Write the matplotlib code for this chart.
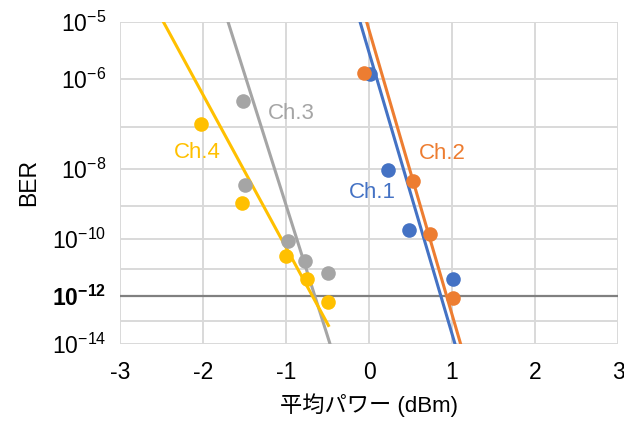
import numpy as np
import matplotlib
matplotlib.use('Agg')
import matplotlib.pyplot as plt

plt.rcParams['font.family'] = ['Liberation Sans', 'Noto Sans CJK JP']
plt.rcParams['mathtext.fontset'] = 'custom'
plt.rcParams['mathtext.rm'] = 'Liberation Sans'
plt.rcParams['mathtext.bf'] = 'Liberation Sans:bold'
plt.rcParams['axes.unicode_minus'] = False

# measured points (average power dBm, BER)
ch1_x = [0.01, 0.23, 0.48, 1.01]
ch1_ber = [1.25e-6, 9.3e-9, 1.9e-10, 4.2e-12]
ch2_x = [-0.06, 0.53, 0.73, 1.01]
ch2_ber = [1.3e-6, 4.8e-9, 1.4e-10, 8.5e-13]
ch3_x = [-1.52, -1.49, -0.97, -0.77, -0.50]
ch3_ber = [3.6e-7, 3.8e-9, 8.5e-11, 1.9e-11, 6.9e-12]
ch4_x = [-2.02, -1.53, -1.00, -0.75, -0.49]
ch4_ber = [1.2e-7, 1.2e-9, 2.7e-11, 4.2e-12, 5.6e-13]

# trend lines: log10(-log10(BER)) = a + b * x
fit_a = [0.741, 0.710, 1.317, 1.224]
fit_b = [0.391, 0.395, 0.364, 0.212]
fit_x0 = [-0.5, -0.5, -2.0, -2.7]
fit_x1 = [1.3, 1.3, -0.3, -0.48]

names = ['Ch.1', 'Ch.2', 'Ch.3', 'Ch.4']
colors = ['#4472C4', '#ED7D31', '#A5A5A5', '#FFC000']
label_pos = [(0.506, 0.472), (0.647, 0.593), (0.343, 0.717), (0.155, 0.596)]

y_decades = [5, 6, 7, 8, 9, 10, 11, 12, 13, 14]
y_labeled = [5, 6, 8, 10, 12, 14]
x_ticks = [-3, -2, -1, 0, 1, 2, 3]


def fwd(b):
    b = np.clip(b, 1e-300, 1 - 1e-12)
    return -np.log10(-np.log10(b))


def inv(t):
    return 10.0 ** (-(10.0 ** (-t)))


fig = plt.figure(figsize=(6.24, 4.26), dpi=100)
ax = fig.add_axes([120 / 624, 1 - 344 / 426, 498 / 624, 322 / 426])
ax.set_yscale('function', functions=(fwd, inv))
ax.set_xlim(-3, 3)
ax.set_ylim(1e-14, 1e-5)

# grid
for d in y_decades:
    if d == 12:
        ax.axhline(10.0 ** -d, color='#808080', lw=1.6, zorder=1)
    else:
        ax.axhline(10.0 ** -d, color='#D9D9D9', lw=1.4, zorder=0)
for xv in x_ticks:
    ax.axvline(xv, color='#D9D9D9', lw=1.4, zorder=0)

xs_all = [ch1_x, ch2_x, ch3_x, ch4_x]
bers_all = [ch1_ber, ch2_ber, ch3_ber, ch4_ber]
for i in range(4):
    lx = np.array([fit_x0[i], fit_x1[i]])
    ly = inv(-(fit_a[i] + fit_b[i] * lx))
    ax.plot(lx, ly, color=colors[i], lw=2.2, zorder=2, solid_capstyle='butt')
for i in [0, 1, 2, 3]:
    ax.plot(xs_all[i], bers_all[i], 'o', color=colors[i], ms=10.5, mec='none', zorder=3)
for i in range(4):
    ax.text(label_pos[i][0], label_pos[i][1], names[i], color=colors[i], fontsize=16,
            ha='center', va='center', transform=ax.transAxes)

ax.set_xticks(x_ticks)
ax.set_xticklabels([str(v) for v in x_ticks])
ax.set_yticks([10.0 ** -d for d in y_decades])
ylabels = []
for d in y_decades:
    if d == 12:
        ylabels.append(r'$\mathbf{10^{-12}}$')
    elif d in y_labeled:
        ylabels.append(r'$\mathregular{10^{-%d}}$' % d)
    else:
        ylabels.append('')
ax.set_yticklabels(ylabels)
ax.minorticks_off()
ax.tick_params(axis='both', length=0, labelsize=16.5)
ax.tick_params(axis='x', pad=12)
ax.tick_params(axis='y', pad=10)
for s in ax.spines.values():
    s.set_visible(False)

ax.set_xlabel('平均パワー (dBm)', fontsize=16, labelpad=7)
ax.set_ylabel('BER', fontsize=16.5, labelpad=8)

fig.savefig('out.png', dpi=100)
